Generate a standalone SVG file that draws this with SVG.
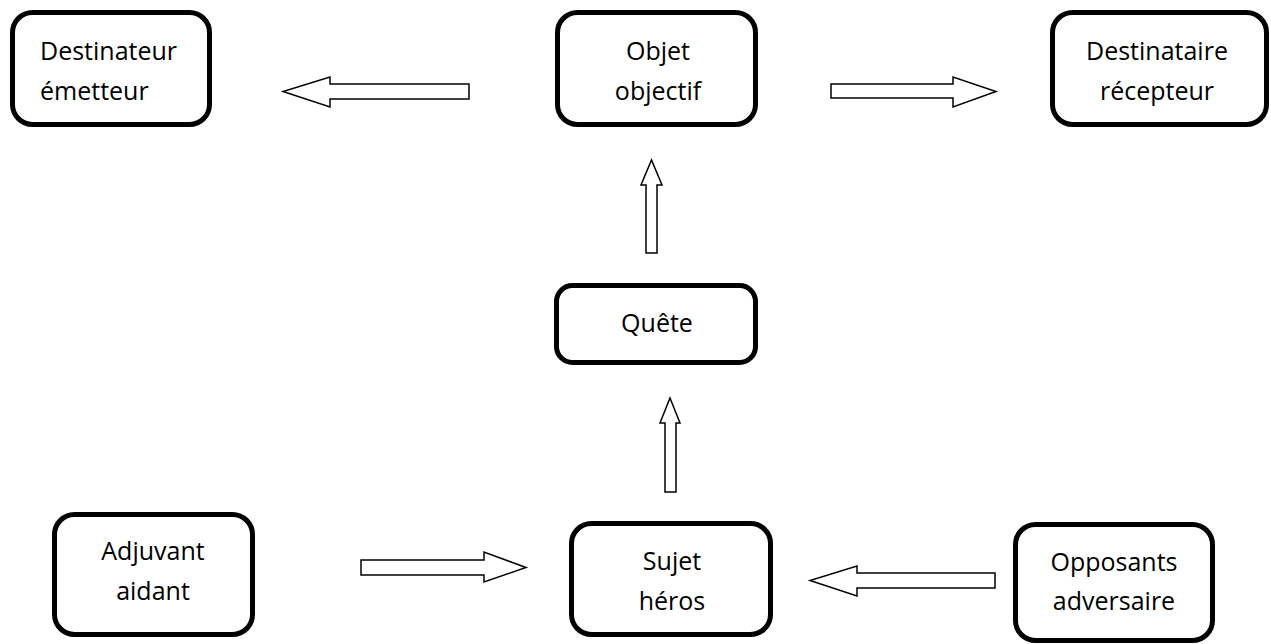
<svg xmlns="http://www.w3.org/2000/svg" width="1271" height="644" viewBox="0 0 1271 644">
<style>
.box{fill:#fff;stroke:#000;stroke-width:5}
.t{font-family:"Open Sans","Liberation Sans",sans-serif;font-size:25px;fill:#000}
.c{text-anchor:middle}
.arr{fill:#fff;stroke:#000;stroke-width:1.5;stroke-linejoin:miter}
</style>
<rect width="1271" height="644" fill="#fff"/>
<g id="destinateur">
<rect class="box" x="12.5" y="12.5" width="197" height="112" rx="20"/>
<text class="t" x="40" y="60">Destinateur</text>
<text class="t" x="40" y="100">émetteur</text>
</g>
<g id="objet">
<rect class="box" x="557.5" y="12.5" width="198" height="112" rx="20"/>
<text class="t c" x="658" y="60">Objet</text>
<text class="t c" x="658" y="100">objectif</text>
</g>
<g id="destinataire">
<rect class="box" x="1052.5" y="12.5" width="214" height="112" rx="20"/>
<text class="t c" x="1157" y="60">Destinataire</text>
<text class="t c" x="1157" y="100">récepteur</text>
</g>
<g id="quete">
<rect class="box" x="556.5" y="285.5" width="199" height="77" rx="16"/>
<text class="t c" x="657" y="332">Quête</text>
</g>
<g id="adjuvant">
<rect class="box" x="54.5" y="514.5" width="198" height="120" rx="20"/>
<text class="t c" x="153" y="560">Adjuvant</text>
<text class="t c" x="153" y="600">aidant</text>
</g>
<g id="sujet">
<rect class="box" x="571.5" y="523.5" width="199" height="111" rx="20"/>
<text class="t c" x="672" y="570">Sujet</text>
<text class="t c" x="672" y="610">héros</text>
</g>
<g id="opposants">
<rect class="box" x="1015.5" y="524.5" width="197" height="116" rx="20"/>
<text class="t c" x="1114" y="571">Opposants</text>
<text class="t c" x="1114" y="610">adversaire</text>
</g>
<g id="connectors">
<polygon class="arr" points="469,84 330,84 330,77 283,91.5 330,107 330,99 469,99"/>
<polygon class="arr" points="831,84 953,84 953,77 996,91.5 953,107 953,98 831,98"/>
<polygon class="arr" points="646,253 646,185 641,185 651.5,160 662,185 657,185 657,253"/>
<polygon class="arr" points="665,492 665,423 660,423 670,398 680,423 676,423 676,492"/>
<polygon class="arr" points="361,560 484,560 484,552 526,567.5 484,582 484,575 361,575"/>
<polygon class="arr" points="995,573 857,573 857,566 810,580.5 857,596 857,588 995,588"/>
</g>
</svg>
